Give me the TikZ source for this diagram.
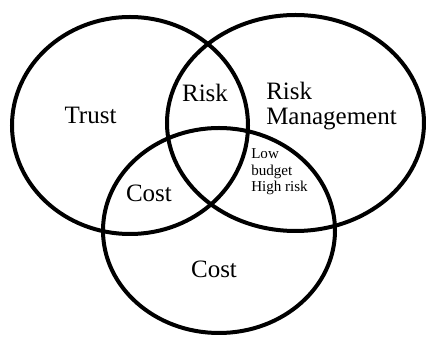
\documentclass[tikz,border=0pt]{standalone}
\usepackage{fontspec}
\setmainfont{Liberation Serif}
\begin{document}
\begin{tikzpicture}[x=0.75pt,y=-0.75pt,
  ring/.style={draw=black,line width=3pt},
  biglabel/.style={font=\fontsize{18.75}{18.75}\selectfont,inner sep=0pt},
  smalllabel/.style={font=\fontsize{11.3}{12.2}\selectfont,inner sep=0pt,align=left}]
  \useasboundingbox (0,0) rectangle (426,338);
  % the three sets
  \draw[ring] (130,125.5) ellipse [x radius=118, y radius=108.5];
  \draw[ring] (295.5,123) ellipse [x radius=128.5, y radius=108];
  \draw[ring] (219,230.5) ellipse [x radius=116, y radius=102.5];
  % region labels
  \node[biglabel,anchor=base] (trust) at (90.5,124) {Trust};
  \node[biglabel,anchor=base] (risk) at (205,102) {Risk};
  \node[biglabel,anchor=base west] (rm1) at (266,100) {Risk};
  \node[biglabel,anchor=base west] (rm2) at (266,125) {Management};
  \node[smalllabel,anchor=base west] (lb1) at (251,159) {Low};
  \node[smalllabel,anchor=base west] (lb2) at (251,175.7) {budget};
  \node[smalllabel,anchor=base west] (lb3) at (251,191.7) {High risk};
  \node[biglabel,anchor=base] (costa) at (149,201.7) {Cost};
  \node[biglabel,anchor=base] (costb) at (214,278) {Cost};
\end{tikzpicture}
\end{document}
